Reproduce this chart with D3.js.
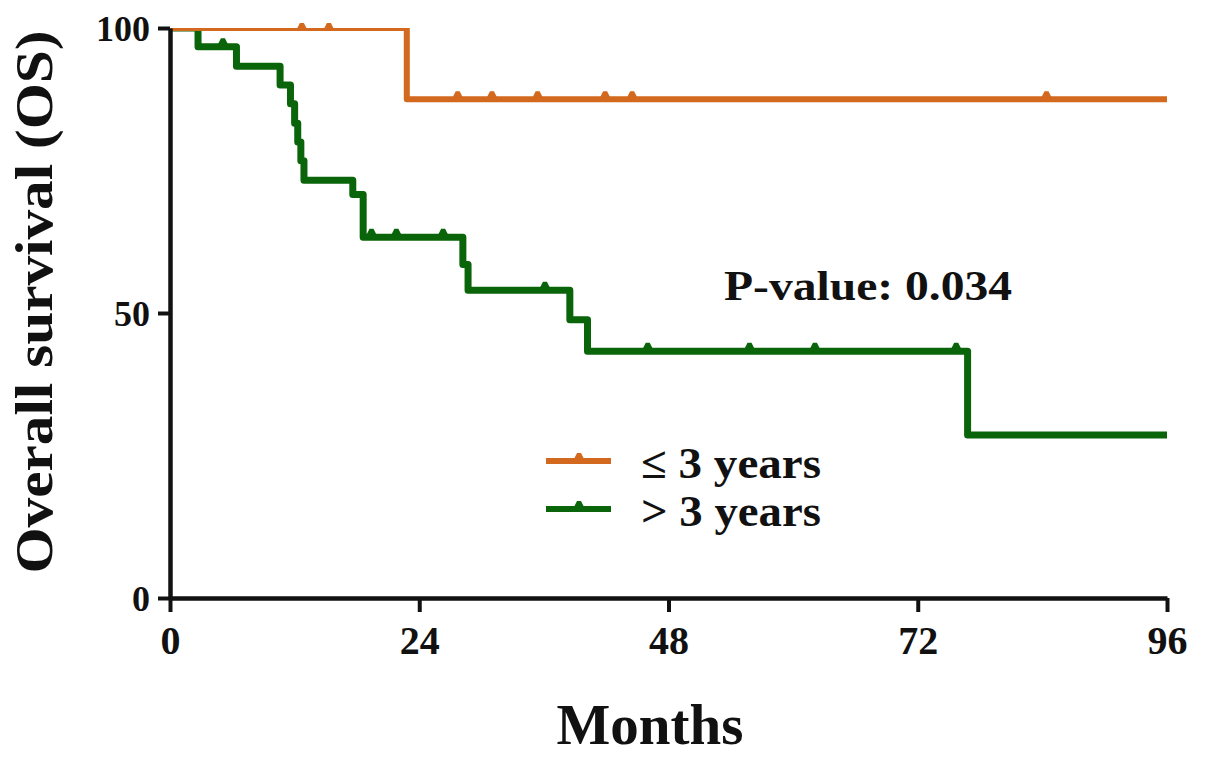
<!DOCTYPE html>
<html>
<head>
<meta charset="utf-8">
<script src="https://cdn.jsdelivr.net/npm/d3@7"></script>
<style>
  body { margin: 0; background: #fff; }
  text { font-family: "Liberation Serif", "Times New Roman", serif; font-weight: bold; fill: #111; }
</style>
</head>
<body>
<svg id="chart" width="1205" height="757"></svg>
<script>
// axis ticks
const xTicks = [0, 24, 48, 72, 96];
const yTicks = [0, 50, 100];

// <= 3 years group: step times (months) and survival (%)
const shortTimes = [0, 22.8];
const shortSurv = [100, 87.5];
const shortCensored = [12.7, 15.3, 27.7, 31.0, 35.4, 41.9, 44.5, 84.4];

// > 3 years group
const longTimes = [0, 2.7, 6.4, 10.6, 11.6, 12.0, 12.3, 12.6, 12.9, 17.6, 18.6, 28.2, 28.7, 38.5, 40.2, 76.8];
const longSurv = [100, 96.7, 93.3, 90, 86.7, 83.3, 80, 76.7, 73.3, 70.8, 63.3, 58.5, 54, 48.8, 43.3, 28.6];
const longCensored = [5.1, 19.4, 21.8, 26.3, 36.1, 46.0, 55.8, 62.1, 75.7];

const maxMonths = 96;

const svg = d3.select("#chart");
const x = d3.scaleLinear().domain([0, 96]).range([170, 1167]);
const y = d3.scaleLinear().domain([0, 100]).range([598, 28]);

// clip so lines at 100% are cut at the top edge like the original
svg.append("clipPath").attr("id", "plotClip")
  .append("rect")
  .attr("x", x(0)).attr("y", y(100))
  .attr("width", x(96) - x(0) + 6).attr("height", y(0) - y(100) + 10);

const toPoints = (times, surv) => {
  const pts = times.map((t, i) => [t, surv[i]]);
  pts.push([maxMonths, surv[surv.length - 1]]);
  return pts;
};

// survival level at time t for a step curve
const levelAt = (times, surv, t) => {
  let s = surv[0];
  times.forEach((tt, i) => { if (tt <= t) s = surv[i]; });
  return s;
};

const line = d3.line()
  .x(d => x(d[0]))
  .y(d => y(d[1]))
  .curve(d3.curveStepAfter);

const groups = [
  { times: longTimes, surv: longSurv, cens: longCensored, color: "#0a640a", width: 7 },
  { times: shortTimes, surv: shortSurv, cens: shortCensored, color: "#d2691e", width: 6 }
];

const plot = svg.append("g").attr("clip-path", "url(#plotClip)");
const marks = svg.append("g");

groups.forEach(g => {
  plot.append("path")
    .datum(toPoints(g.times, g.surv))
    .attr("d", line)
    .attr("fill", "none")
    .attr("stroke", g.color)
    .attr("stroke-width", g.width)
    .attr("stroke-linejoin", "round");

  // censor marks: small bumps on top of the line (not clipped)
  marks.selectAll(null)
    .data(g.cens)
    .enter().append("path")
    .attr("d", d => {
      const lvl = levelAt(g.times, g.surv, d);
      const top = lvl >= 100 ? y(lvl) + 1 : y(lvl) - g.width / 2 + 1;
      const cx = x(d);
      return `M${cx - 5},${top} L${cx - 2},${top - 6} L${cx + 2},${top - 6} L${cx + 5},${top} Z`;
    })
    .attr("fill", g.color);
});

// axes
const xAxis = svg.append("g")
  .attr("transform", `translate(0,${y(0)})`)
  .call(d3.axisBottom(x).tickValues(xTicks).tickSize(14).tickPadding(12).tickSizeOuter(0));
const yAxis = svg.append("g")
  .attr("transform", `translate(${x(0)},0)`)
  .call(d3.axisLeft(y).tickValues(yTicks).tickSize(12).tickPadding(8).tickSizeOuter(0));

[xAxis, yAxis].forEach(a => {
  a.select(".domain").attr("stroke", "#111").attr("stroke-width", 4.5);
  a.selectAll(".tick line").attr("stroke", "#111").attr("stroke-width", 4);
  a.selectAll(".tick text")
    .attr("fill", "#111")
    .style("font-family", '"Liberation Serif", "Times New Roman", serif')
    .style("font-weight", "bold");
});
xAxis.selectAll(".tick text").style("font-size", "40px").attr("dy", "0.75em");
yAxis.selectAll(".tick text").style("font-size", "36px").attr("dy", "0.34em");

// axis titles
svg.append("text")
  .attr("x", 650).attr("y", 744)
  .attr("text-anchor", "middle")
  .style("font-size", "57px")
  .text("Months");

svg.append("text")
  .attr("transform", "translate(52,302) rotate(-90)")
  .attr("text-anchor", "middle")
  .attr("textLength", 543)
  .attr("lengthAdjust", "spacingAndGlyphs")
  .style("font-size", "52px")
  .text("Overall survival (OS)");

// p-value
svg.append("text")
  .attr("x", 724).attr("y", 300)
  .attr("textLength", 288)
  .attr("lengthAdjust", "spacingAndGlyphs")
  .style("font-size", "42px")
  .text("P-value: 0.034");

// legend
const legendItems = [
  { label: "≤ 3 years", color: "#d2691e", yPos: 461 },
  { label: "> 3 years", color: "#0a640a", yPos: 509 }
];
const legend = svg.append("g");
legendItems.forEach(d => {
  legend.append("line")
    .attr("x1", 546).attr("x2", 611)
    .attr("y1", d.yPos).attr("y2", d.yPos)
    .attr("stroke", d.color).attr("stroke-width", 6);
  legend.append("path")
    .attr("d", `M${574},${d.yPos - 2} L${577},${d.yPos - 8} L${581},${d.yPos - 8} L${584},${d.yPos - 2} Z`)
    .attr("fill", d.color);
  legend.append("text")
    .attr("x", 641).attr("y", d.yPos + 17)
    .attr("textLength", 180)
    .attr("lengthAdjust", "spacingAndGlyphs")
    .style("font-size", "44px")
    .text(d.label);
});
</script>
</body>
</html>
